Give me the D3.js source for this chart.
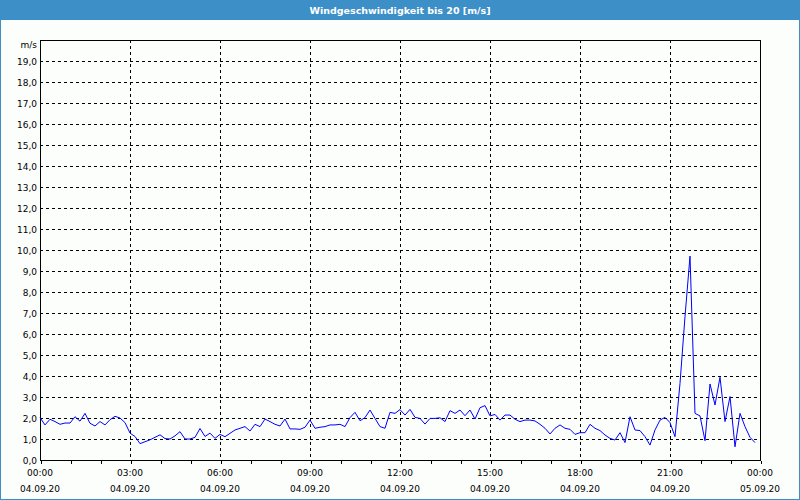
<!DOCTYPE html>
<html>
<head>
  <meta charset="utf-8">
  <title>Windgeschwindigkeit</title>
  <script src="https://d3js.org/d3.v7.min.js"></script>
  <style type="text/css">
    body { margin: 0; background: #fff; }
    #chart { display: block; }
  </style>
</head>
<body>
  <svg id="chart" width="800" height="500"></svg>
  <script type="text/javascript">
    // chart title and unit
    const title = "Windgeschwindigkeit bis 20 [m/s]";
    const unit = "m/s";

    // start of the series, one value every 10 minutes
    const startTime = new Date(2020, 8, 4, 0, 0);
    const stepMinutes = 10;

    // wind speed in m/s
    const speed = [
      2.02, 1.67, 1.94, 1.83, 1.70, 1.76, 1.76, 2.06, 1.85, 2.22, 1.75, 1.62,
      1.83, 1.67, 1.92, 2.08, 2.00, 1.78, 1.28, 1.12, 0.78, 0.87, 0.96, 1.08,
      1.20, 1.02, 1.00, 1.15, 1.35, 1.00, 1.00, 1.08, 1.50, 1.12, 1.28, 1.03,
      1.22, 1.11, 1.27, 1.43, 1.51, 1.59, 1.38, 1.70, 1.59, 1.95, 1.83, 1.70,
      1.62, 1.95, 1.48, 1.48, 1.46, 1.56, 1.90, 1.51, 1.56, 1.59, 1.67, 1.67,
      1.70, 1.59, 2.02, 2.27, 1.87, 2.02, 2.38, 1.98, 1.59, 1.51, 2.27, 2.22,
      2.40, 2.14, 2.41, 2.03, 1.98, 1.71, 1.98, 1.98, 2.01, 1.83, 2.35, 2.22,
      2.38, 2.11, 2.38, 1.95, 2.49, 2.59, 2.10, 2.17, 1.90, 2.14, 2.14, 1.94,
      1.83, 1.90, 1.90, 1.86, 1.70, 1.51, 1.24, 1.51, 1.67, 1.51, 1.46, 1.22,
      1.30, 1.30, 1.70, 1.51, 1.40, 1.19, 1.03, 0.95, 1.30, 0.83, 2.06, 1.43,
      1.40, 1.11, 0.71, 1.43, 1.90, 2.03, 1.78, 1.11, 3.65, 6.83, 9.71, 2.22,
      2.10, 0.92, 3.62, 2.62, 3.94, 1.83, 3.02, 0.63, 2.22, 1.59, 1.08, 0.83
    ];

    // axis ticks
    const yTicks = d3.range(0, 20, 1);
    const xTickHours = d3.range(0, 25, 3);

    const data = speed.map((v, i) => ({
      t: new Date(startTime.getTime() + i * stepMinutes * 60000),
      v: v
    }));

    const W = 800, H = 500;
    const margin = { top: 40, right: 40, bottom: 40, left: 40 };
    const blue = "#3d8fc7";
    const font = "'DejaVu Sans', Verdana, sans-serif";

    const svg = d3.select("#chart");

    // background, outer frame and title bar
    svg.append("rect")
      .attr("x", 0.5).attr("y", 0.5)
      .attr("width", W - 1).attr("height", H - 1)
      .attr("fill", "#fcfefc")
      .attr("stroke", blue);
    svg.append("rect")
      .attr("x", 0).attr("y", 0)
      .attr("width", W).attr("height", 20)
      .attr("fill", blue);
    svg.append("text")
      .attr("x", W / 2).attr("y", 14)
      .attr("text-anchor", "middle")
      .style("font", "bold 9.5px " + font)
      .attr("fill", "#fff")
      .text(title);

    const endTime = new Date(startTime.getTime() + 24 * 3600000);
    const x = d3.scaleTime()
      .domain([startTime, endTime])
      .range([margin.left, W - margin.right]);
    const y = d3.scaleLinear()
      .domain([0, 20])
      .range([H - margin.bottom, margin.top]);

    const g = svg.append("g").attr("shape-rendering", "crispEdges");

    // horizontal dashed grid
    g.selectAll("line.hgrid")
      .data(yTicks.filter(d => d > 0))
      .join("line")
        .attr("class", "hgrid")
        .attr("x1", margin.left).attr("x2", W - margin.right)
        .attr("y1", d => Math.round(y(d)) + 0.5)
        .attr("y2", d => Math.round(y(d)) + 0.5)
        .attr("stroke", "#000")
        .attr("stroke-dasharray", "3,3");

    // vertical dashed grid every 3 hours
    const xMajor = xTickHours.map(h => new Date(startTime.getTime() + h * 3600000));
    g.selectAll("line.vgrid")
      .data(xMajor.slice(1, -1))
      .join("line")
        .attr("class", "vgrid")
        .attr("y1", margin.top).attr("y2", H - margin.bottom)
        .attr("x1", d => Math.round(x(d)) + 0.5)
        .attr("x2", d => Math.round(x(d)) + 0.5)
        .attr("stroke", "#000")
        .attr("stroke-dasharray", "3,3");

    // x axis: small tick every hour, labels every 3 hours
    const xAxis = d3.axisBottom(x)
      .ticks(d3.timeHour.every(1))
      .tickSize(3)
      .tickFormat("");
    svg.append("g")
      .attr("transform", `translate(0.5,${H - margin.bottom + 0.5})`)
      .call(xAxis)
      .call(a => a.select(".domain").remove())
      .call(a => a.selectAll("line").attr("stroke", "#000").attr("shape-rendering", "crispEdges"));

    const fmtTime = d3.timeFormat("%H:%M");
    const fmtDate = d3.timeFormat("%d.%m.%y");
    const xl = svg.append("g")
      .style("font", "9px " + font)
      .attr("fill", "#000")
      .attr("text-anchor", "middle");
    xl.selectAll("text.t")
      .data(xMajor)
      .join("text")
        .attr("class", "t")
        .attr("x", d => x(d))
        .attr("y", 476)
        .text(d => fmtTime(d));
    xl.selectAll("text.d")
      .data(xMajor)
      .join("text")
        .attr("class", "d")
        .attr("x", d => x(d))
        .attr("y", 492)
        .text(d => fmtDate(d));

    // y labels
    const fmtY = v => d3.format(".1f")(v).replace(".", ",");
    const yl = svg.append("g")
      .style("font", "9px " + font)
      .attr("fill", "#000")
      .attr("text-anchor", "end");
    yl.selectAll("text")
      .data(yTicks)
      .join("text")
        .attr("x", margin.left - 3)
        .attr("y", d => y(d) + 3.5)
        .text(d => fmtY(d));
    yl.append("text")
      .attr("x", margin.left - 3)
      .attr("y", margin.top + 8)
      .text(unit);

    // plot frame
    svg.append("rect")
      .attr("x", margin.left + 0.5).attr("y", margin.top + 0.5)
      .attr("width", W - margin.left - margin.right)
      .attr("height", H - margin.top - margin.bottom)
      .attr("fill", "none")
      .attr("stroke", "#000")
      .attr("shape-rendering", "crispEdges");

    // wind speed line
    const line = d3.line()
      .x(d => x(d.t))
      .y(d => y(d.v));
    svg.append("path")
      .datum(data)
      .attr("d", line)
      .attr("fill", "none")
      .attr("stroke", "#0000ff")
      .attr("stroke-width", 1);
  </script>
</body>
</html>
